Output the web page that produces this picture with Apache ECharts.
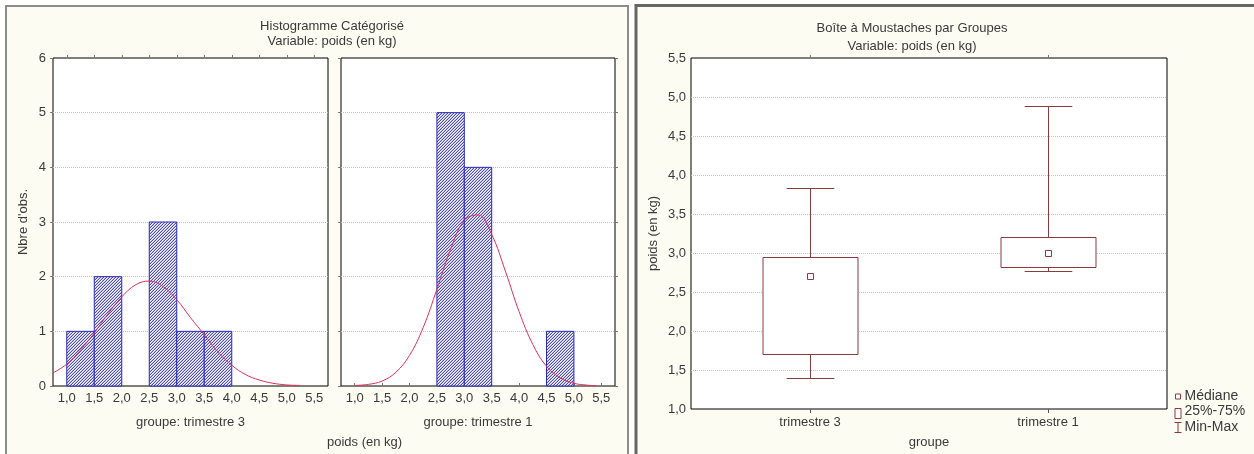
<!DOCTYPE html>
<html>
<head>
<meta charset="utf-8">
<script src="https://cdn.jsdelivr.net/npm/echarts@6/dist/echarts.min.js"></script>
<style>
  html, body { margin: 0; padding: 0; background: #fff; }
  #chart { width: 1254px; height: 454px; }
</style>
</head>
<body>
<div id="chart"></div>
<script>
// histogram data (bin start, counts), bin width 0.5
const binWidth = 0.5;
const binStarts3 = [1.0, 1.5, 2.5, 3.0, 3.5];
const counts3 = [1, 2, 3, 1, 1];
const binStarts1 = [2.5, 3.0, 4.5];
const counts1 = [5, 4, 1];

// fitted normal curves
const curveX3 = [0.75, 1.0, 1.25, 1.5, 1.75, 2.0, 2.25, 2.5, 2.75, 3.0, 3.25, 3.5, 3.75, 4.0, 4.25, 4.5, 4.75, 5.0, 5.25];
const curveY3 = [0.24, 0.40, 0.66, 0.97, 1.32, 1.63, 1.85, 1.92, 1.82, 1.58, 1.25, 0.94, 0.62, 0.38, 0.21, 0.11, 0.05, 0.02, 0.01];
const curveX1 = [1.0, 1.25, 1.5, 1.75, 2.0, 2.25, 2.5, 2.75, 3.0, 3.25, 3.5, 3.75, 4.0, 4.25, 4.5, 4.75, 5.0, 5.25, 5.4];
const curveY1 = [0.01, 0.03, 0.09, 0.25, 0.56, 1.07, 1.77, 2.50, 3.03, 3.13, 2.77, 2.10, 1.36, 0.76, 0.36, 0.15, 0.05, 0.015, 0.006];

const xTicks = [1.0, 1.5, 2.0, 2.5, 3.0, 3.5, 4.0, 4.5, 5.0, 5.5];

// box plot by group
const groups = ['trimestre 3', 'trimestre 1'];
const boxMin = [1.40, 2.77];
const boxQ1 = [1.70, 2.82];
const boxMed = [2.71, 3.00];
const boxQ3 = [2.95, 3.21];
const boxMax = [3.83, 4.89];

const font = 'Liberation Sans, Arial, sans-serif';
const textCol = '#3a3a3a';
const boxCol = '#8a3b3b';

// hatch pattern for the bars (thin "/" lines)
const pc = document.createElement('canvas');
pc.width = 3; pc.height = 3;
const pctx = pc.getContext('2d');
const shades = ['#f6f6fc', '#c0c0e6', '#4c4cba'];
for (let x = 0; x < 3; x++) {
  for (let y = 0; y < 3; y++) {
    pctx.fillStyle = shades[(x + y) % 3];
    pctx.fillRect(x, y, 1, 1);
  }
}
const hatch = { image: pc, repeat: 'repeat' };

const fmt = v => v.toFixed(1).replace('.', ',');

function histItem(params, api) {
  const a = api.coord([api.value(0), api.value(2)]);
  const b = api.coord([api.value(1), 0]);
  return {
    type: 'rect',
    shape: { x: a[0], y: a[1], width: b[0] - a[0], height: b[1] - a[1] },
    style: { fill: hatch, stroke: '#2828b8', lineWidth: 1 }
  };
}

function boxItem(params, api) {
  const i = api.value(0);
  const band = api.size([1, 0])[0];
  const cx = Math.round(api.coord([i, 1])[0]) + 0.5;
  const y = v => Math.round(api.coord([i, v])[1]) + 0.5;
  const bw = band * 0.4, cw = band * 0.2;
  const st = { stroke: boxCol, lineWidth: 1, fill: null };
  const yMin = y(api.value(1)), yQ1 = y(api.value(2)), yMed = y(api.value(3)), yQ3 = y(api.value(4)), yMax = y(api.value(5));
  return {
    type: 'group',
    children: [
      { type: 'line', shape: { x1: cx, y1: yMax, x2: cx, y2: yQ3 }, style: st },
      { type: 'line', shape: { x1: cx - cw / 2, y1: yMax, x2: cx + cw / 2, y2: yMax }, style: st },
      { type: 'line', shape: { x1: cx, y1: yQ1, x2: cx, y2: yMin }, style: st },
      { type: 'line', shape: { x1: cx - cw / 2, y1: yMin, x2: cx + cw / 2, y2: yMin }, style: st },
      { type: 'rect', shape: { x: Math.round(cx - bw / 2), y: yQ3, width: Math.round(bw), height: yQ1 - yQ3 }, style: { stroke: boxCol, lineWidth: 1, fill: '#fff' } },
      { type: 'rect', shape: { x: cx - 3, y: yMed - 3, width: 6, height: 6 }, style: { stroke: boxCol, lineWidth: 1, fill: '#fff' } }
    ]
  };
}

const chart = echarts.init(document.getElementById('chart'));

const labelStyle = { color: textCol, fontFamily: font, fontSize: 13 };
const dotted = { show: true, showMinLine: false, showMaxLine: false, lineStyle: { type: 'dotted', color: '#c0c0c0', width: 1 } };
const gridBase = { show: true, backgroundColor: '#fff', borderColor: '#000', borderWidth: 1 };
const smallTick = { show: true, length: 3, lineStyle: { color: '#777' } };

function histX(grid, name) {
  return {
    gridIndex: grid, type: 'value', min: 0.75, max: 5.75,
    axisLine: { show: false },
    axisTick: { show: false },
    splitLine: { show: false },
    axisLabel: Object.assign({ customValues: xTicks, formatter: fmt, margin: 6 }, labelStyle),
    name: name, nameLocation: 'middle', nameGap: 30, nameTextStyle: labelStyle
  };
}
function histTop(grid) {
  return {
    gridIndex: grid, type: 'value', min: 0.75, max: 5.75, position: 'top',
    axisLine: { show: false },
    axisTick: Object.assign({ customValues: xTicks }, smallTick),
    axisLabel: { show: false },
    splitLine: { show: false }
  };
}

chart.setOption({
  backgroundColor: '#fff',
  animation: false,
  graphic: [
    { type: 'rect', z: -10, shape: { x: 6, y: 6, width: 622, height: 460 }, style: { fill: '#fdfcf2', stroke: '#8c8c8c', lineWidth: 2 } },
    { type: 'rect', z: -10, shape: { x: 636, y: 5.5, width: 630, height: 460 }, style: { fill: '#fdfcf2', stroke: '#666', lineWidth: 3 } },
    { type: 'text', left: 327, top: 436, style: { text: 'poids (en kg)', fill: textCol, font: '13px ' + font, textAlign: 'center' } },
    {
      type: 'group', left: 1172, top: 389,
      children: [
        { type: 'rect', shape: { x: 2, y: 5, width: 5, height: 5 }, style: { fill: '#fff', stroke: boxCol, lineWidth: 1 } },
        { type: 'text', x: 11, y: 0, style: { text: 'Médiane', fill: textCol, font: '14px ' + font } },
        { type: 'rect', shape: { x: 1.5, y: 19.5, width: 6, height: 10 }, style: { fill: '#fff', stroke: boxCol, lineWidth: 1 } },
        { type: 'text', x: 11, y: 15.5, style: { text: '25%-75%', fill: textCol, font: '14px ' + font } },
        { type: 'line', shape: { x1: 4.5, y1: 33.5, x2: 4.5, y2: 43.5 }, style: { stroke: boxCol, lineWidth: 1 } },
        { type: 'line', shape: { x1: 1, y1: 33.5, x2: 8, y2: 33.5 }, style: { stroke: boxCol, lineWidth: 1 } },
        { type: 'line', shape: { x1: 1, y1: 43.5, x2: 8, y2: 43.5 }, style: { stroke: boxCol, lineWidth: 1 } },
        { type: 'text', x: 11, y: 31, style: { text: 'Min-Max', fill: textCol, font: '14px ' + font } }
      ]
    }
  ],
  title: [
    {
      text: 'Histogramme Catégorisé\nVariable: poids (en kg)',
      left: 327, top: 14, textAlign: 'center',
      textStyle: { color: textCol, fontFamily: font, fontSize: 13, fontWeight: 'normal', lineHeight: 15 }
    },
    {
      text: 'Boîte à Moustaches par Groupes\nVariable: poids (en kg)',
      left: 907, top: 14, textAlign: 'center',
      textStyle: { color: textCol, fontFamily: font, fontSize: 13, fontWeight: 'normal', lineHeight: 18 }
    }
  ],
  grid: [
    Object.assign({ left: 53, top: 58, width: 275, height: 328 }, gridBase),
    Object.assign({ left: 341, top: 58, width: 274, height: 328 }, gridBase),
    Object.assign({ left: 691, top: 58, width: 476, height: 353 }, gridBase)
  ],
  xAxis: [
    histX(0, 'groupe: trimestre 3'),
    histX(1, 'groupe: trimestre 1'),
    {
      gridIndex: 2, type: 'category', data: groups, boundaryGap: true,
      axisLine: { show: false },
      axisTick: { show: true, alignWithLabel: true, length: 4, lineStyle: { color: '#555' } },
      axisLabel: Object.assign({ margin: 7 }, labelStyle),
      splitLine: { show: false },
      name: 'groupe', nameLocation: 'middle', nameGap: 27, nameTextStyle: labelStyle
    },
    histTop(0),
    histTop(1),
    {
      gridIndex: 2, type: 'category', data: groups, boundaryGap: true, position: 'top',
      axisLine: { show: false },
      axisTick: Object.assign({ alignWithLabel: true }, smallTick),
      axisLabel: { show: false },
      splitLine: { show: false }
    }
  ],
  yAxis: [
    {
      gridIndex: 0, type: 'value', min: 0, max: 6, interval: 1,
      axisLine: { show: false },
      axisTick: smallTick,
      axisLabel: Object.assign({ margin: 7 }, labelStyle),
      splitLine: dotted,
      name: "Nbre d'obs.", nameLocation: 'middle', nameGap: 23, nameTextStyle: labelStyle
    },
    {
      gridIndex: 1, type: 'value', min: 0, max: 6, interval: 1,
      axisLine: { show: false },
      axisTick: smallTick,
      axisLabel: { show: false },
      splitLine: dotted
    },
    {
      gridIndex: 2, type: 'value', min: 1, max: 5.5, interval: 0.5,
      axisLine: { show: false },
      axisTick: { show: false },
      axisLabel: Object.assign({ margin: 5, formatter: fmt }, labelStyle),
      splitLine: dotted,
      name: 'poids (en kg)', nameLocation: 'middle', nameGap: 31, nameTextStyle: labelStyle
    },
    {
      gridIndex: 1, type: 'value', min: 0, max: 6, interval: 1, position: 'right',
      axisLine: { show: false },
      axisTick: smallTick,
      axisLabel: { show: false },
      splitLine: { show: false }
    }
  ],
  series: [
    {
      type: 'custom', xAxisIndex: 0, yAxisIndex: 0, renderItem: histItem, z: 2,
      encode: { x: [0, 1], y: 2 },
      data: binStarts3.map((s, i) => [s, s + binWidth, counts3[i]])
    },
    {
      type: 'custom', xAxisIndex: 1, yAxisIndex: 1, renderItem: histItem, z: 2,
      encode: { x: [0, 1], y: 2 },
      data: binStarts1.map((s, i) => [s, s + binWidth, counts1[i]])
    },
    {
      type: 'line', xAxisIndex: 0, yAxisIndex: 0, z: 3, smooth: 0.4, symbol: 'none',
      lineStyle: { color: '#e0305a', width: 1 },
      data: curveX3.map((x, i) => [x, curveY3[i]])
    },
    {
      type: 'line', xAxisIndex: 1, yAxisIndex: 1, z: 3, smooth: 0.4, symbol: 'none',
      lineStyle: { color: '#e0305a', width: 1 },
      data: curveX1.map((x, i) => [x, curveY1[i]])
    },
    {
      type: 'custom', xAxisIndex: 2, yAxisIndex: 2, renderItem: boxItem, z: 2,
      encode: { x: 0, y: [1, 2, 3, 4, 5] },
      data: groups.map((g, i) => [i, boxMin[i], boxQ1[i], boxMed[i], boxQ3[i], boxMax[i]])
    }
  ]
});
</script>
</body>
</html>
